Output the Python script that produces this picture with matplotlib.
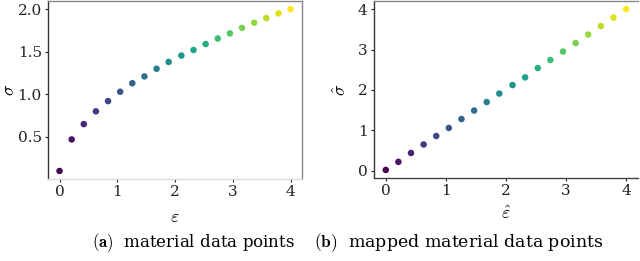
import numpy as np
import matplotlib
matplotlib.use("Agg")
import matplotlib.pyplot as plt

plt.rcParams['font.family'] = ['DejaVu Serif']
plt.rcParams['mathtext.fontset'] = 'cm'

# data
eps = [0.0, 0.21, 0.42, 0.63, 0.84, 1.05, 1.26, 1.47, 1.68, 1.89,
       2.11, 2.32, 2.53, 2.74, 2.95, 3.16, 3.37, 3.58, 3.79, 4.0]
sigma = [0.10, 0.47, 0.65, 0.80, 0.92, 1.03, 1.13, 1.21, 1.30, 1.38,
         1.455, 1.52, 1.59, 1.655, 1.715, 1.78, 1.84, 1.895, 1.95, 2.0]
eps_hat = [0.0, 0.21, 0.42, 0.63, 0.84, 1.05, 1.26, 1.47, 1.68, 1.89,
           2.11, 2.32, 2.53, 2.74, 2.95, 3.16, 3.37, 3.58, 3.79, 4.0]
sigma_hat = [0.02, 0.22, 0.44, 0.65, 0.86, 1.06, 1.28, 1.49, 1.70, 1.91,
             2.12, 2.31, 2.54, 2.74, 2.95, 3.16, 3.37, 3.58, 3.79, 4.0]

left_yticks = [0.5, 1.0, 1.5, 2.0]
right_yticks = [0, 1, 2, 3, 4]
xticks = [0, 1, 2, 3, 4]

fig = plt.figure(figsize=(6.4, 2.61), dpi=100)
ax1 = fig.add_axes([0.075, 0.314, 0.397, 0.682])
ax2 = fig.add_axes([0.584, 0.318, 0.413, 0.678])

colors = plt.cm.viridis(np.linspace(0, 1, len(eps)))

ax1.scatter(eps, sigma, c=colors, s=22, linewidths=0)
ax2.scatter(eps_hat, sigma_hat, c=colors, s=22, linewidths=0)

ax1.set_yticks(left_yticks)
ax2.set_yticks(right_yticks)
for ax in (ax1, ax2):
    ax.set_xticks(xticks)
    ax.tick_params(length=2.5, width=0.8, labelsize=11, pad=2, colors='#222222')
    ax.spines['left'].set_color('#333333')
    ax.spines['top'].set_color('#888888')
    ax.spines['right'].set_color('#888888')
    ax.spines['bottom'].set_color('#dddddd')
    for s in ax.spines.values():
        s.set_linewidth(1.0)
ax2.spines['bottom'].set_color('#444444')
ax2.spines['right'].set_visible(False)

ax1.set_yticklabels(['0.5', '1.0', '1.5', '2.0'])

ax1.set_ylabel(r'$\sigma$', fontsize=13)
ax1.yaxis.set_label_coords(-0.118, 0.5)
ax1.set_xlabel(r'$\varepsilon$', fontsize=13, labelpad=6)
ax2.set_ylabel(r'$\hat{\sigma}$', fontsize=13, labelpad=6)
ax2.set_xlabel(r'$\hat{\varepsilon}$', fontsize=13, labelpad=5)

fig.text(0.302, 0.055, r'$\mathbf{(a)}$  material data points', ha='center', fontsize=12)
fig.text(0.716, 0.055, r'$\mathbf{(b)}$  mapped material data points', ha='center', fontsize=12.5)

fig.savefig('out.png', dpi=100)
